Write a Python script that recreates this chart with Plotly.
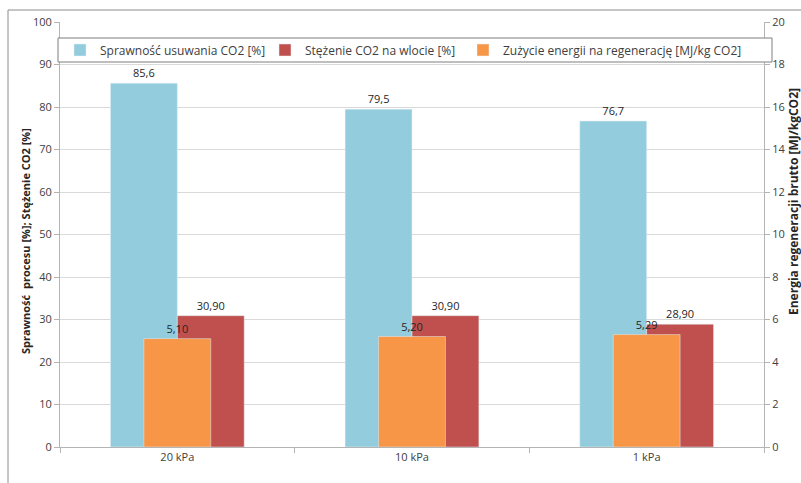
import plotly.graph_objects as go

categories = ["20 kPa", "10 kPa", "1 kPa"]
efficiency = [85.6, 79.5, 76.7]
concentration = [30.90, 30.90, 28.90]
energy = [5.10, 5.20, 5.29]

series_names = [
    "Sprawność usuwania CO2 [%]",
    "Stężenie CO2 na wlocie [%]",
    "Zużycie energii na regenerację [MJ/kg CO2]",
]
left_title = "Sprawność  procesu [%]; Stężenie CO2 [%]"
right_title = "Energia regeneracji brutto [MJ/kgCO2]"

def fmt(v, d):
    return f"{v:.{d}f}".replace(".", ",")

FONT = "Open Sans"
TXT = "#404040"
GRID = "#D9D9D9"
AXL = "#B4B4B4"
BW = 0.285

W, H = 801, 483
ML, MR, MT, MB = 60, 37, 22, 36
PW, PH = W - ML - MR, H - MT - MB

def px(x):
    return (x - ML) / PW

def py(y):
    return (H - MB - y) / PH

fig = go.Figure()
fig.add_trace(go.Bar(
    x=categories, y=efficiency, name=series_names[0],
    marker_color="#93CDDD", width=BW, offset=-BW, legendwidth=160,
    text=[fmt(v, 1) for v in efficiency], textposition="outside",
    textfont=dict(color="#262626", size=11, family=FONT), cliponaxis=False,
))
fig.add_trace(go.Bar(
    x=categories, y=concentration, name=series_names[1],
    marker_color="#C0504D", width=BW, offset=0, legendwidth=153,
    text=[fmt(v, 2) for v in concentration], textposition="outside",
    textfont=dict(color="#262626", size=11, family=FONT), cliponaxis=False,
))
fig.add_trace(go.Bar(
    x=categories, y=energy, name=series_names[2], yaxis="y2",
    marker_color="#F79646", width=BW, offset=-BW / 2,
    text=[fmt(v, 2) for v in energy], textposition="outside",
    textfont=dict(color="#262626", size=11, family=FONT), cliponaxis=False,
))

fig.update_layout(
    width=W, height=H,
    margin=dict(l=ML, r=MR, t=MT, b=MB),
    paper_bgcolor="white", plot_bgcolor="white",
    barmode="overlay",
    font=dict(family=FONT, color=TXT, size=11),
    xaxis=dict(
        type="category", range=[-0.5, 2.5],
        showline=True, linecolor=AXL, linewidth=1,
        ticks="outside", tickson="boundaries", ticklen=5, tickcolor=AXL,
        showgrid=False, tickfont=dict(size=11, color=TXT),
    ),
    yaxis=dict(
        range=[0, 100], dtick=10, showgrid=True, gridcolor=GRID,
        showline=True, linecolor=AXL, ticks="outside", ticklen=5, tickcolor=AXL,
        zeroline=False, tickfont=dict(size=11, color=TXT),
    ),
    yaxis2=dict(
        range=[0, 20], dtick=2, overlaying="y", side="right", showgrid=False,
        showline=True, linecolor=AXL, ticks="outside", ticklen=5, tickcolor=AXL,
        zeroline=False, tickfont=dict(size=11, color=TXT),
    ),
    showlegend=True,
    legend=dict(
        orientation="h", x=0, y=py(50), xanchor="left", yanchor="middle",
        bgcolor="rgba(0,0,0,0)", borderwidth=0,
        font=dict(size=12, color=TXT, family=FONT), traceorder="normal",
    ),
    shapes=[
        dict(type="rect", xref="paper", yref="paper",
             x0=px(58), x1=px(772), y0=py(62), y1=py(38),
             fillcolor="white", line=dict(color="#7F7F7F", width=1), layer="above"),
        dict(type="line", xref="paper", yref="paper",
             x0=px(8), x1=px(801), y0=py(10), y1=py(10),
             line=dict(color="#8C8C8C", width=1)),
        dict(type="line", xref="paper", yref="paper",
             x0=px(8), x1=px(8), y0=py(10), y1=py(483),
             line=dict(color="#8C8C8C", width=1)),
    ],
    annotations=[
        dict(text=left_title, xref="paper", yref="paper", x=px(25), y=py(241),
             textangle=-90, showarrow=False, xanchor="center", yanchor="middle",
             font=dict(size=11, color="#262626", family=FONT, weight="bold")),
        dict(text=right_title, xref="paper", yref="paper", x=px(793), y=py(202),
             textangle=-90, showarrow=False, xanchor="center", yanchor="middle",
             font=dict(size=12, color="#262626", family=FONT, weight="bold")),
    ],
)

fig.write_html(
    "out.html",
    config={"displayModeBar": False},
    post_script="document.body.style.margin='0';document.body.style.overflow='hidden';",
)
